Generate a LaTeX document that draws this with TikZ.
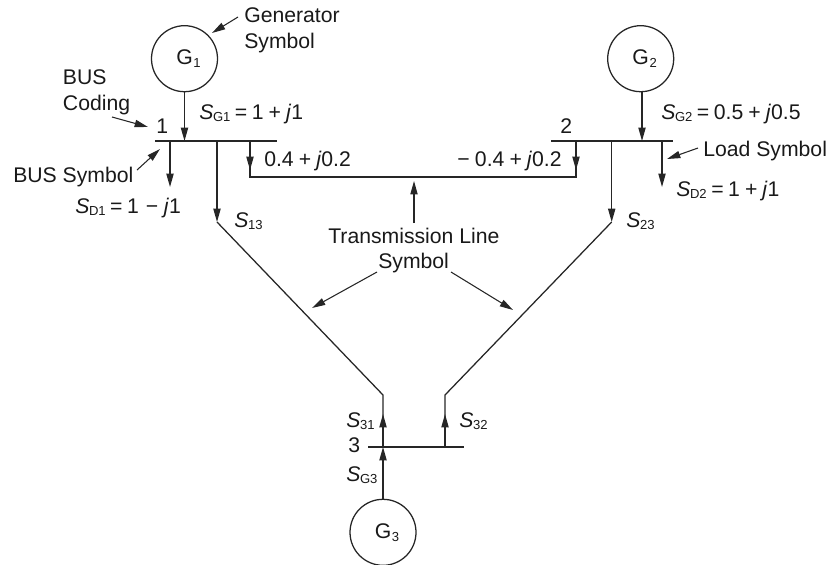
\documentclass[tikz,border=0pt]{standalone}
\usepackage{fontspec}
\setmainfont{Liberation Sans}
\usetikzlibrary{arrows.meta}
\newcommand{\lowered}[1]{\raisebox{-2.2pt}{\fontsize{9.8}{11}\selectfont #1}}
\newcommand{\flow}[1]{\textit{S}\kern-0.3pt\lowered{#1}}
\newcommand{\gen}[1]{\kern6pt G\kern0.5pt\lowered{#1}}
\newcommand{\eq}{\kern3.4pt=\kern3.4pt}
\newcommand{\pl}{\kern3.8pt+\kern3.8pt}
\newcommand{\mn}{\kern5.2pt−\kern4.2pt}
\tikzset{
  line/.style={draw=black!85,line width=0.95pt},
  tip/.style={line,-{Triangle[length=10pt,width=5.4pt]}},
  pointer/.style={draw=black!85,line width=0.8pt,-{Triangle[length=10pt,width=5.4pt]}},
  genr/.style={circle,draw=black!85,line width=0.95pt,minimum size=49.5pt,inner sep=0pt,
    font=\fontsize{15.9}{18}\selectfont,text=black!90},
  lab/.style={anchor=base west,inner sep=0pt,font=\fontsize{15.9}{18}\selectfont,text=black!90},
}
\begin{document}
\begin{tikzpicture}[x=0.75pt,y=-0.75pt]
  \useasboundingbox (0,0) rectangle (834,564);
  % generators
  \node[genr] (g1) at (184.5,58.7) {\gen{1}};
  \node[genr] (g2) at (640.7,58.7) {\gen{2}};
  \node[genr] (g3) at (383,532.3) {\gen{3}};
  % buses
  \coordinate (bus1l) at (155,141);
  \coordinate (bus1r) at (277,141);
  \coordinate (bus2l) at (551,141);
  \coordinate (bus2r) at (673,141);
  \coordinate (bus3l) at (368,447);
  \coordinate (bus3r) at (464,447);
  \draw[line] (bus1l) -- (bus1r);
  \draw[line] (bus2l) -- (bus2r);
  \draw[line] (bus3l) -- (bus3r);
  % injections
  \coordinate (g1b) at (184.5,141);
  \coordinate (g2a) at (642,92);
  \coordinate (g2b) at (642,141);
  \coordinate (g3b) at (383,447);
  \draw[tip] (g1) -- (g1b);
  \draw[tip] (g2a) -- (g2b);
  \draw[tip] (g3) -- (g3b);
  % loads
  \coordinate (d1a) at (170,141);
  \coordinate (d1b) at (170,187);
  \coordinate (d2a) at (662,141);
  \coordinate (d2b) at (662,187);
  \draw[tip] (d1a) -- (d1b);
  \draw[tip] (d2a) -- (d2b);
  % line 1-2
  \coordinate (l12a) at (250,141);
  \coordinate (l12b) at (250,177);
  \coordinate (l12c) at (576,177);
  \coordinate (l12d) at (576,141);
  \coordinate (l12e) at (250,170);
  \coordinate (l12f) at (576,170);
  \draw[line] (l12a) -- (l12b) -- (l12c) -- (l12d);
  \draw[tip] (l12a) -- (l12e);
  \draw[tip] (l12d) -- (l12f);
  % line 1-3
  \coordinate (l13a) at (217,141);
  \coordinate (l13b) at (217,222);
  \coordinate (l13c) at (383,395);
  \coordinate (l13d) at (383,414);
  \draw[tip] (l13a) -- (l13b);
  \draw[line] (l13b) -- (l13c) -- (g3b);
  \draw[tip] (g3b) -- (l13d);
  % line 2-3
  \coordinate (l23a) at (611.7,141);
  \coordinate (l23b) at (611.7,222);
  \coordinate (l23c) at (445,395);
  \coordinate (l23d) at (445,414);
  \coordinate (l23e) at (445,447);
  \draw[tip] (l23a) -- (l23b);
  \draw[line] (l23b) -- (l23c) -- (l23e);
  \draw[tip] (l23e) -- (l23d);
  % labels
  \node[lab] (gensym) at (244,22.7) {Generator};
  \node[lab] (gensym2) at (244,48) {Symbol};
  \node[lab] (buscod) at (62.7,84) {BUS};
  \node[lab] (buscod2) at (62.7,110) {Coding};
  \node[lab] (bussym) at (13,182) {BUS Symbol};
  \node[lab] (loadsym) at (703,156) {Load Symbol};
  \node[lab] (trans) at (328,243) {Transmission Line};
  \node[lab] (trans2) at (378,268) {Symbol};
  \node[lab] (num1) at (156,133) {1};
  \node[lab] (num2) at (560,133) {2};
  \node[lab] (num3) at (348,452) {3};
  \node[lab] (sg1) at (199,119) {\flow{G1}\eq 1\pl\textit{j}1};
  \node[lab] (sg2) at (661,119) {\flow{G2}\eq 0.5\pl\textit{j}0.5};
  \node[lab] (sg3) at (346,481) {\flow{G3}};
  \node[lab] (sd1) at (75,213) {\flow{D1}\eq 1\mn\textit{j}1};
  \node[lab] (sd2) at (676,196) {\flow{D2}\eq 1\pl\textit{j}1};
  \node[lab] (s13) at (234,227) {\flow{13}};
  \node[lab] (s23) at (626,227) {\flow{23}};
  \node[lab] (s31) at (346,427) {\flow{31}};
  \node[lab] (s32) at (459,427) {\flow{32}};
  \node[lab] (p12) at (264,166) {0.4\pl\textit{j}0.2};
  \node[lab] (p21) at (457,166) {−\kern4pt0.4\pl\textit{j}0.2};
  % pointers
  \coordinate (pa1) at (238,17);
  \coordinate (pa2) at (212,33);
  \coordinate (pb1) at (112,117);
  \coordinate (pb2) at (148,127);
  \coordinate (pc1) at (137,170);
  \coordinate (pc2) at (160,149);
  \coordinate (pd1) at (698,148);
  \coordinate (pd2) at (667,159);
  \coordinate (pe1) at (414,223);
  \coordinate (pe2) at (414,181);
  \coordinate (pf1) at (377,272);
  \coordinate (pf2) at (312,308);
  \coordinate (pg1) at (451,272);
  \coordinate (pg2) at (513,310);
  \draw[pointer] (pa1) -- (pa2);
  \draw[pointer] (pb1) -- (pb2);
  \draw[pointer] (pc1) -- (pc2);
  \draw[pointer] (pd1) -- (pd2);
  \draw[pointer] (pe1) -- (pe2);
  \draw[pointer] (pf1) -- (pf2);
  \draw[pointer] (pg1) -- (pg2);
\end{tikzpicture}
\end{document}
